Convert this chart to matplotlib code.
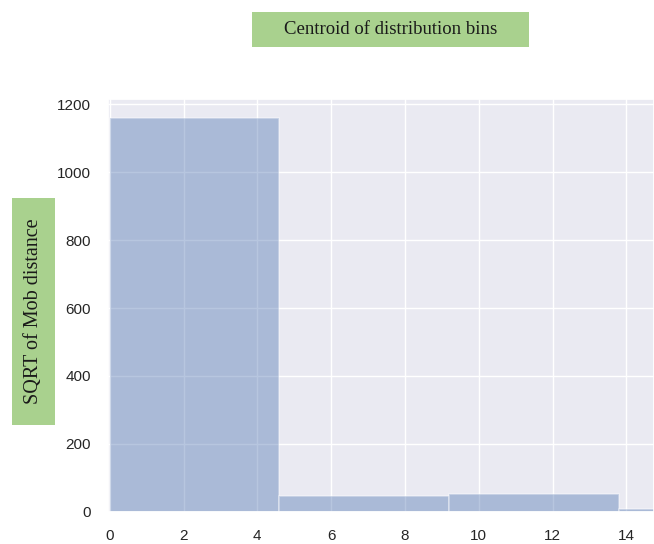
import numpy as np
import matplotlib
matplotlib.use("Agg")
import matplotlib.pyplot as plt
import seaborn as sns
from matplotlib.patches import Rectangle

# datos del histograma
bin_edges = [0.0, 4.6, 9.2, 13.8, 18.4]
counts = [1158, 48, 53, 10]
y_ticks = [0, 200, 400, 600, 800, 1000, 1200]
x_ticks = [0, 2, 4, 6, 8, 10, 12, 14]

title_text = "Centroid of distribution bins"
ylabel_text = "SQRT of Mob distance"

sns.set_theme(style="darkgrid")
plt.rcParams["font.family"] = ["Liberation Sans", "DejaVu Sans"]

fig = plt.figure(figsize=(6.54, 5.44), dpi=100)
ax = fig.add_axes([0.165, 0.059, 0.835, 0.759])

edges = np.array(bin_edges)
ax.bar(edges[:-1], counts, width=np.diff(edges), align="edge",
       color="#4c72b0", alpha=0.4, edgecolor="white", linewidth=1.2)

ax.set_xlim(-0.05, 14.75)
ax.set_ylim(0, 1215)
ax.set_xticks(x_ticks)
ax.set_yticks(y_ticks)
ax.tick_params(axis="both", labelsize=11, colors="#262626", pad=6)

# cajas verdes con los textos
green = "#a9d18e"
fig.patches.append(Rectangle((0.385, 0.9136), 0.424, 0.0644, transform=fig.transFigure,
                             facecolor=green, edgecolor="none"))
fig.text(0.597, 0.946, title_text, ha="center", va="center",
         family="Liberation Serif", fontsize=13.5, color="#1a1a1a")

fig.patches.append(Rectangle((0.018, 0.219), 0.066, 0.417, transform=fig.transFigure,
                             facecolor=green, edgecolor="none"))
fig.text(0.051, 0.4275, ylabel_text, ha="center", va="center", rotation=90,
         family="Liberation Serif", fontsize=14.5, color="#1a1a1a")

fig.savefig("out.png", dpi=100)
